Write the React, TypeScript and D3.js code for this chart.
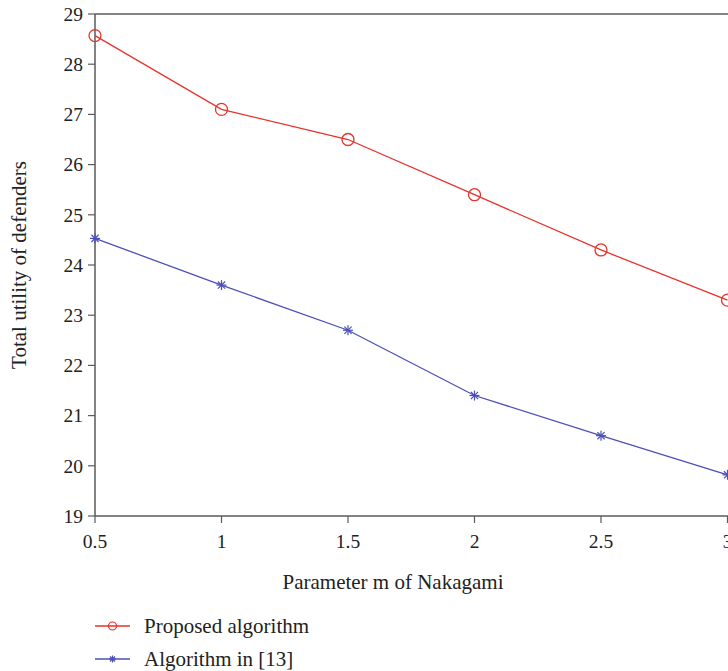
import React from "react";
import * as d3 from "d3";

const M_VALUES = [0.5, 1, 1.5, 2, 2.5, 3];
const PROPOSED = [28.57, 27.1, 26.5, 25.4, 24.3, 23.3];
const BASELINE = [24.53, 23.6, 22.7, 21.4, 20.6, 19.82];
const X_TICKS = [0.5, 1, 1.5, 2, 2.5, 3];
const Y_TICKS = [19, 20, 21, 22, 23, 24, 25, 26, 27, 28, 29];

const W = 728;
const H = 671;
const RED = "#e8322b";
const BLUE = "#4b50b8";
const AXIS = "#5a5a5a";
const FONT = "'Liberation Serif', 'DejaVu Serif', serif";

function Star({ x, y, r = 5, color }: { x: number; y: number; r?: number; color: string }) {
  const d = r * 0.72;
  return (
    <g stroke={color} strokeWidth={1.2}>
      <line x1={x - r} y1={y} x2={x + r} y2={y} />
      <line x1={x} y1={y - r} x2={x} y2={y + r} />
      <line x1={x - d} y1={y - d} x2={x + d} y2={y + d} />
      <line x1={x - d} y1={y + d} x2={x + d} y2={y - d} />
    </g>
  );
}

const App = () => {
  const left = 95;
  const right = 727.5;
  const top = 14;
  const bottom = 516;

  const x = d3.scaleLinear().domain([0.5, 3]).range([left, right]);
  const y = d3.scaleLinear().domain([19, 29]).range([bottom, top]);

  const line = d3
    .line<number>()
    .x((_, i) => x(M_VALUES[i]))
    .y((v) => y(v));

  return (
    <svg
      width={W}
      height={H}
      style={{ position: "absolute", left: 0, top: 0, background: "#fff" }}
      fontFamily={FONT}
    >
      {/* axes */}
      <line x1={left} y1={top} x2={W} y2={top} stroke={AXIS} strokeWidth={1.5} />
      <line x1={left} y1={top} x2={left} y2={bottom} stroke={AXIS} strokeWidth={1.5} />
      <line x1={left} y1={bottom} x2={W} y2={bottom} stroke={AXIS} strokeWidth={1.5} />

      {Y_TICKS.map((t) => (
        <g key={"y" + t}>
          <line x1={left - 7} x2={left} y1={y(t)} y2={y(t)} stroke={AXIS} strokeWidth={1.2} />
          <text x={left - 12} y={y(t)} dy="0.35em" textAnchor="end" fontSize={19.5} fill="#222">
            {t}
          </text>
        </g>
      ))}
      {X_TICKS.map((t) => (
        <g key={"x" + t}>
          <line x1={x(t)} x2={x(t)} y1={bottom} y2={bottom + 7} stroke={AXIS} strokeWidth={1.2} />
          <text x={x(t)} y={bottom + 32} textAnchor="middle" fontSize={19.5} fill="#222">
            {t}
          </text>
        </g>
      ))}

      <text
        transform={`translate(26, ${(top + bottom) / 2}) rotate(-90)`}
        textAnchor="middle"
        fontSize={21}
        fill="#222"
      >
        Total utility of defenders
      </text>
      <text x={393} y={589} textAnchor="middle" fontSize={21} fill="#222">
        Parameter m of Nakagami
      </text>

      {/* series */}
      <path d={line(PROPOSED) ?? ""} fill="none" stroke={RED} strokeWidth={1.3} />
      {PROPOSED.map((v, i) => (
        <circle key={"p" + i} cx={x(M_VALUES[i])} cy={y(v)} r={6} fill="none" stroke={RED} strokeWidth={1.3} />
      ))}
      <path d={line(BASELINE) ?? ""} fill="none" stroke={BLUE} strokeWidth={1.3} />
      {BASELINE.map((v, i) => (
        <Star key={"b" + i} x={x(M_VALUES[i])} y={y(v)} color={BLUE} />
      ))}

      {/* legend */}
      <g>
        <line x1={95} x2={130} y1={626} y2={626} stroke={RED} strokeWidth={1.3} />
        <circle cx={112.5} cy={626} r={4} fill="none" stroke={RED} strokeWidth={1.2} />
        <text x={144} y={626} dy="0.35em" fontSize={21} fill="#222">
          Proposed algorithm
        </text>
        <line x1={95} x2={130} y1={659} y2={659} stroke={BLUE} strokeWidth={1.3} />
        <Star x={112.5} y={659} r={3.5} color={BLUE} />
        <text x={144} y={659} dy="0.35em" fontSize={21} fill="#222">
          Algorithm in [13]
        </text>
      </g>
    </svg>
  );
};

export default App;
